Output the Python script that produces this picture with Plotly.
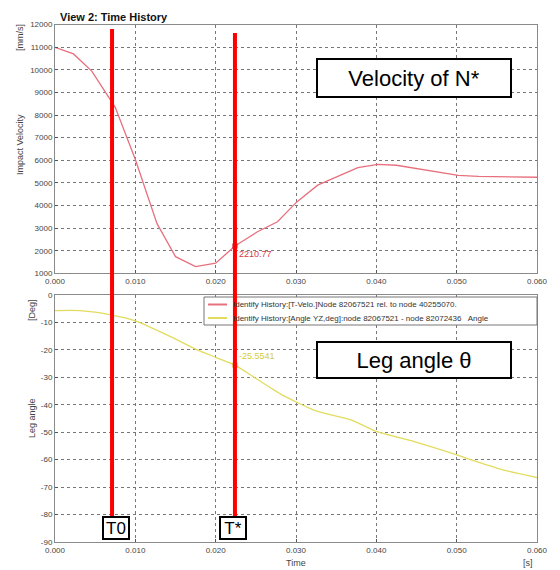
import plotly.graph_objects as go

W, H = 560, 570
OFF = 8  # page body margin of the browser

# ---- data ----
vel_time = [0.0, 0.0023, 0.0046, 0.0069, 0.0075, 0.010, 0.0127, 0.015, 0.0175, 0.020,
            0.0224, 0.0252, 0.0277, 0.0301, 0.0327, 0.0377, 0.0402, 0.0425, 0.0485,
            0.0502, 0.0527, 0.0569, 0.060]
vel_vals = [10990, 10700, 9930, 8640, 8340, 6030, 3200, 1740, 1300, 1450,
            2210, 2840, 3280, 4160, 4900, 5670, 5820, 5780, 5410,
            5330, 5290, 5260, 5250]

ang_time = [0.0, 0.0031, 0.0071, 0.010, 0.014, 0.0177, 0.020, 0.0224, 0.0248, 0.0281,
            0.0323, 0.0369, 0.0402, 0.0448, 0.0502, 0.0523, 0.056, 0.060]
ang_vals = [-5.7, -5.7, -7.3, -9.4, -14.6, -20.0, -22.7, -25.55, -30.0, -36.1,
            -42.0, -45.6, -49.9, -53.5, -58.4, -60.5, -63.9, -66.5]

marker_times = [0.0071, 0.0224]
marker_labels = ["T0", "T*"]
probe_time = 0.0224
probe_vel = 2210.77
probe_ang = -25.5541

vel_name = "Identify History:[T-Velo.]Node 82067521 rel. to node 40255070."
ang_name = "Identify History:[Angle YZ,deg]:node 82067521 - node 82072436   Angle"

x_ticks = [0.0, 0.01, 0.02, 0.03, 0.04, 0.05, 0.06]
x_ticklabels = ["0.000", "0.010", "0.020", "0.030", "0.040", "0.050", "0.060"]
vel_ticks = list(range(1000, 12001, 1000))
vel_ticklabels = [str(v) for v in vel_ticks]
ang_ticks = list(range(-90, 1, 10))
ang_ticklabels = [str(v) for v in ang_ticks]

VEL_C = "#e8707e"
ANG_C = "#e2dc5e"


def px_x(p):
    return (p - OFF) / W


def px_y(p):
    return (H - (p - OFF)) / H


fig = go.Figure()
fig.add_trace(go.Scatter(x=vel_time, y=vel_vals, mode="lines", name=vel_name,
                         line=dict(color=VEL_C, width=1.3), xaxis="x", yaxis="y"))
fig.add_trace(go.Scatter(x=ang_time, y=ang_vals, mode="lines", name=ang_name,
                         line=dict(color=ANG_C, width=1.3, shape="spline", smoothing=0.6),
                         xaxis="x2", yaxis="y2"))
# probe markers
fig.add_trace(go.Scatter(x=[probe_time], y=[probe_vel], mode="markers+text",
                         text=["2210.77"], textposition="bottom right",
                         textfont=dict(color="#d23a48", size=9, family="Arial"),
                         marker=dict(symbol="square", size=5, color="#c8102e"),
                         xaxis="x", yaxis="y"))
fig.add_trace(go.Scatter(x=[probe_time], y=[probe_ang], mode="markers+text",
                         text=["-25.5541"], textposition="top right",
                         textfont=dict(color="#d6cc3a", size=9, family="Arial"),
                         marker=dict(symbol="square", size=5, color="#e89020"),
                         xaxis="x2", yaxis="y2"))

axis_common = dict(showline=True, linecolor="#8a8a8a", linewidth=1, mirror=True,
                   showgrid=True, gridcolor="#777777", griddash="dot", gridwidth=1,
                   zeroline=False, ticks="inside", ticklen=3, tickcolor="#555",
                   automargin=False,
                   tickfont=dict(size=8, color="#444", family="Arial"))

xdom = [px_x(55), px_x(537)]
fig.update_layout(
    width=W, height=H, margin=dict(l=0, r=0, t=0, b=0, autoexpand=False),
    paper_bgcolor="white", plot_bgcolor="white",
    xaxis=dict(domain=xdom, range=[0, 0.06], tickvals=x_ticks, ticktext=x_ticklabels,
               anchor="y", **axis_common),
    yaxis=dict(domain=[px_y(273.4), px_y(24.5)], range=[1000, 12000], tickvals=vel_ticks,
               ticktext=vel_ticklabels, anchor="x", **axis_common),
    xaxis2=dict(domain=xdom, range=[0, 0.06], tickvals=x_ticks, ticktext=x_ticklabels,
                anchor="y2", **axis_common),
    yaxis2=dict(domain=[px_y(542), px_y(295)], range=[-90, 0], tickvals=ang_ticks,
                ticktext=ang_ticklabels, anchor="x2", **axis_common),
    showlegend=False,
)

# manual legend box
fig.add_shape(type="rect", xref="paper", yref="paper",
              x0=px_x(204), x1=px_x(537), y0=px_y(325), y1=px_y(297),
              line=dict(color="#777", width=1), fillcolor="white", layer="above")
for name, col, yy in [(vel_name, VEL_C, 304.5), (ang_name, ANG_C, 318)]:
    fig.add_shape(type="line", xref="paper", yref="paper",
                  x0=px_x(208), x1=px_x(227), y0=px_y(yy), y1=px_y(yy),
                  line=dict(color=col, width=2), layer="above")
    fig.add_annotation(x=px_x(231), y=px_y(yy), xref="paper", yref="paper",
                       text=name, showarrow=False, xanchor="left", yanchor="middle",
                       font=dict(size=8, color="#333", family="Arial"))

# red vertical time markers
line_tops = [29, 33]
for t, top in zip(marker_times, line_tops):
    fig.add_shape(type="line", xref="x", yref="paper", x0=t, x1=t,
                  y0=px_y(516), y1=px_y(top), line=dict(color="#ff0000", width=4),
                  layer="above")

# boxed labels for markers
box_centers = [116, 233]
for lab, cx in zip(marker_labels, box_centers):
    fig.add_annotation(x=px_x(cx), y=px_y(528), xref="paper", yref="paper",
                       text=lab, showarrow=False, font=dict(size=17, color="black", family="Arial"),
                       bgcolor="white", bordercolor="black", borderwidth=2,
                       width=24, height=20, borderpad=0, xanchor="center", yanchor="middle")

# big boxed titles
fig.add_annotation(x=px_x(414), y=px_y(78), xref="paper", yref="paper",
                   text="Velocity of N*", showarrow=False, xanchor="center", yanchor="middle",
                   font=dict(size=22, color="black", family="Arial"),
                   bgcolor="white", bordercolor="black", borderwidth=2,
                   width=192, height=36, borderpad=0)
fig.add_annotation(x=px_x(414), y=px_y(360), xref="paper", yref="paper",
                   text="Leg angle θ", showarrow=False, xanchor="center", yanchor="middle",
                   font=dict(size=22, color="black", family="Arial"),
                   bgcolor="white", bordercolor="black", borderwidth=2,
                   width=192, height=34, borderpad=0)

# title
fig.add_annotation(x=px_x(58), y=px_y(17), xref="paper", yref="paper",
                   text="<b>View 2: Time History</b>", showarrow=False,
                   xanchor="left", yanchor="middle",
                   font=dict(size=11, color="#111", family="Arial"))


# axis titles
def side_text(txt, x, y, size=9):
    fig.add_annotation(x=px_x(x), y=px_y(y), xref="paper", yref="paper", text=txt,
                       showarrow=False, textangle=-90, xanchor="center", yanchor="middle",
                       font=dict(size=size, color="#444", family="Arial"))


side_text("[mm/s]", 20, 38)
side_text("Impact Velocity", 20, 145)
side_text("[Deg]", 32, 310)
side_text("Leg angle", 32, 418)

fig.add_annotation(x=px_x(296), y=px_y(563), xref="paper", yref="paper", text="Time",
                   showarrow=False, xanchor="center", yanchor="middle",
                   font=dict(size=9, color="#444", family="Arial"))
fig.add_annotation(x=px_x(528), y=px_y(563), xref="paper", yref="paper", text="[s]",
                   showarrow=False, xanchor="center", yanchor="middle",
                   font=dict(size=9, color="#444", family="Arial"))

fig.write_html("out.html")
